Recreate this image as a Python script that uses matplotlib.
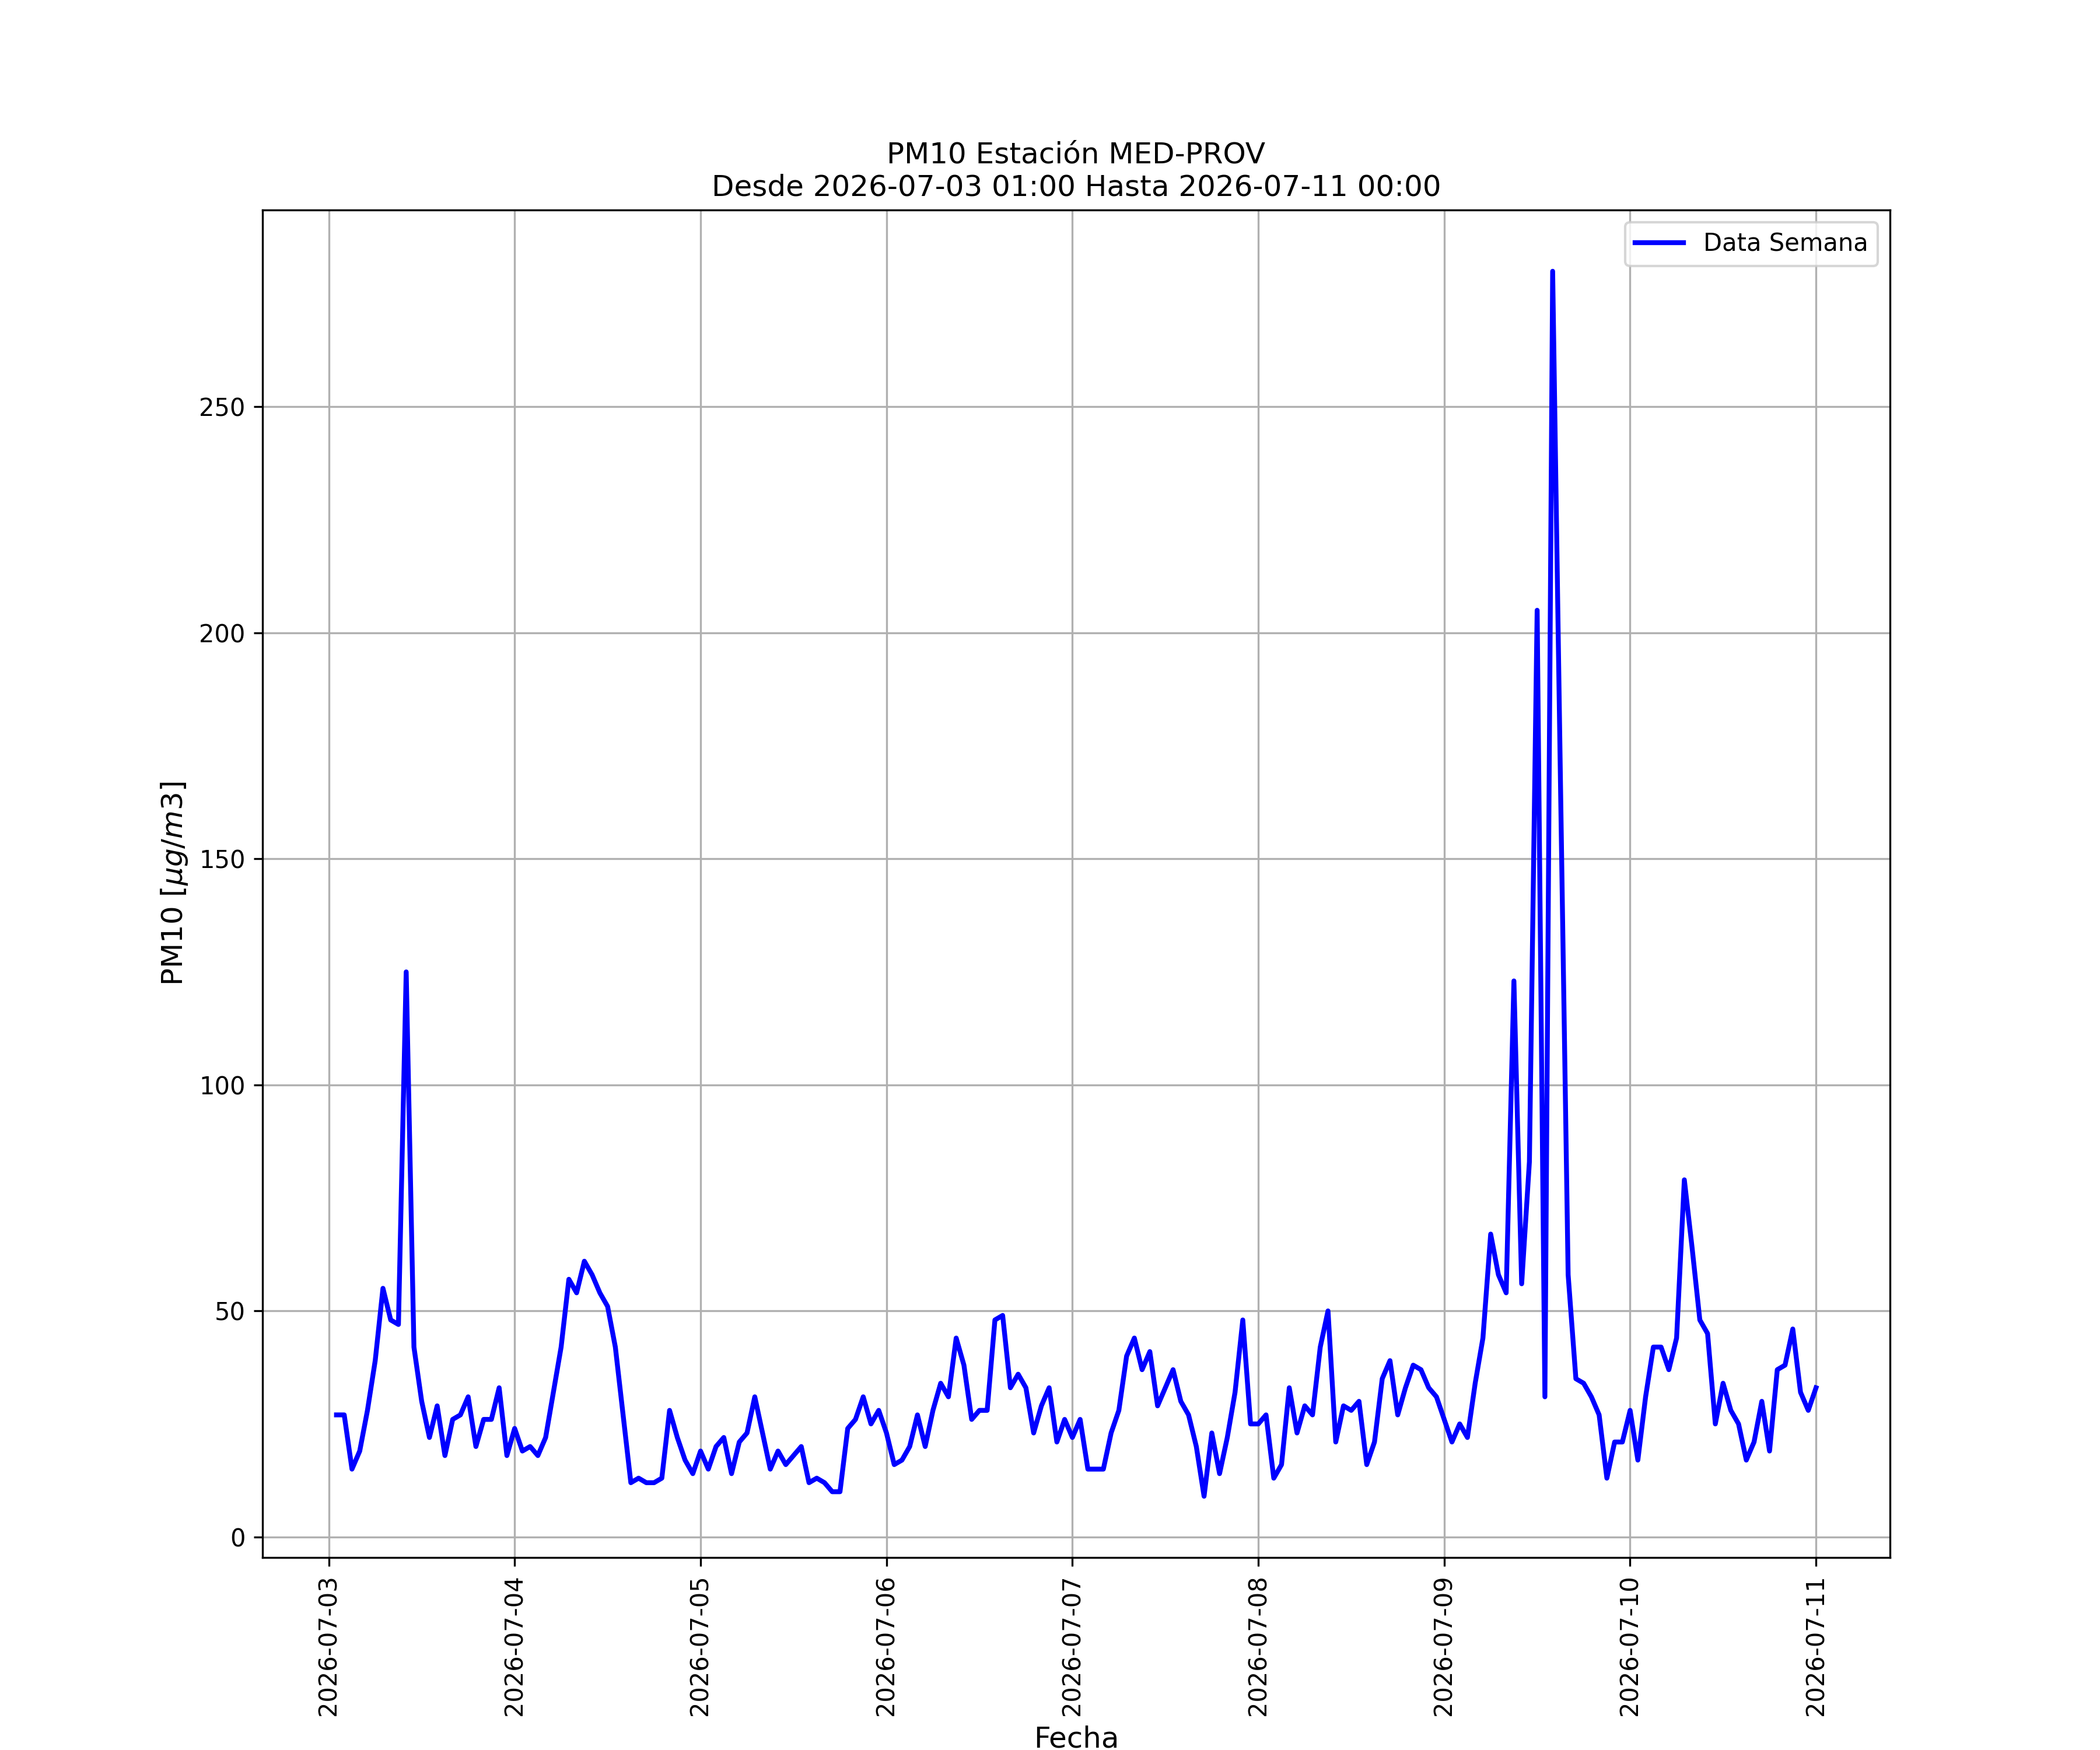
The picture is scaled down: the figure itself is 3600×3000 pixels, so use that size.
import matplotlib
matplotlib.use("Agg")
import matplotlib.pyplot as plt
import matplotlib.dates as mdates
import pandas as pd

start_time = "2026-07-03 01:00"
end_time_label = "2026-07-11 00:00"
station = "MED-PROV"
series_label = "Data Semana"

day_0703 = [27, 27, 15, 19, 28, 39, 55, 48, 47, 125, 42, 30, 22, 29, 18, 26, 27, 31, 20, 26, 26, 33, 18, 24]
day_0704 = [19, 20, 18, 22, 32, 42, 57, 54, 61, 58, 54, 51, 42, 27, 12, 13, 12, 12, 13, 28, 22, 17, 14, 19]
day_0705 = [15, 20, 22, 14, 21, 23, 31, 23, 15, 19, 16, 18, 20, 12, 13, 12, 10, 10, 24, 26, 31, 25, 28, 23]
day_0706 = [16, 17, 20, 27, 20, 28, 34, 31, 44, 38, 26, 28, 28, 48, 49, 33, 36, 33, 23, 29, 33, 21, 26, 22]
day_0707 = [26, 15, 15, 15, 23, 28, 40, 44, 37, 41, 29, 33, 37, 30, 27, 20, 9, 23, 14, 22, 32, 48, 25, 25]
day_0708 = [27, 13, 16, 33, 23, 29, 27, 42, 50, 21, 29, 28, 30, 16, 21, 35, 39, 27, 33, 38, 37, 33, 31, 26]
day_0709 = [21, 25, 22, 34, 44, 67, 58, 54, 123, 56, 83, 205, 31, 280, 168, 58, 35, 34, 31, 27, 13, 21, 21, 28]
day_0710 = [17, 31, 42, 42, 37, 44, 79, 64, 48, 45, 25, 34, 28, 25, 17, 21, 30, 19, 37, 38, 46, 32, 28, 33]

pm10 = day_0703 + day_0704 + day_0705 + day_0706 + day_0707 + day_0708 + day_0709 + day_0710
times = pd.date_range(start_time, periods=len(pm10), freq="h")

fig, ax = plt.subplots(figsize=(12, 10), dpi=300)
ax.plot(times.to_pydatetime(), pm10, color="blue", linewidth=2, label=series_label)

ax.xaxis.set_major_locator(mdates.DayLocator())
ax.xaxis.set_major_formatter(mdates.DateFormatter("%Y-%m-%d"))
for lbl in ax.get_xticklabels():
    lbl.set_rotation(90)

ax.grid(True)
ax.legend(loc="upper right")
ax.set_title(f"PM10 Estación {station}\nDesde {start_time} Hasta {end_time_label}", fontsize=12)
ax.set_xlabel("Fecha", fontsize=12)
ax.set_ylabel(r"PM10 [$\mu g/m3$]", fontsize=12)

fig.savefig("out.png", dpi=300)
